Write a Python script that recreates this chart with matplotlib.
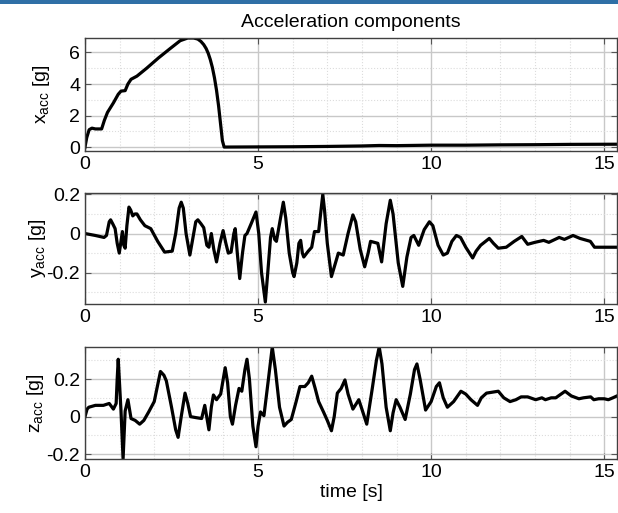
import numpy as np
import matplotlib
matplotlib.use("Agg")
import matplotlib.pyplot as plt
from matplotlib.ticker import MultipleLocator
from matplotlib.patches import Rectangle

plt.rcParams['font.family'] = ['Liberation Sans', 'DejaVu Sans']
plt.rcParams['mathtext.default'] = 'regular'
plt.rcParams['font.size'] = 14

# x acceleration [g]
t_x = [0.0, 0.05, 0.12, 0.2, 0.3, 0.48, 0.56, 0.65, 0.82, 0.96, 1.04, 1.16, 1.24, 1.33,
       1.5, 1.78, 2.12, 2.46, 2.75, 2.97, 3.14, 3.26, 3.35, 3.43, 3.5, 3.56, 3.62, 3.68,
       3.74, 3.8, 3.86, 3.92, 3.97, 4.02, 5.0, 6.0, 7.0, 8.0, 8.5, 9.0, 10.0, 11.0, 12.0,
       13.0, 14.0, 15.37]
a_x = [0.0, 0.6, 1.1, 1.2, 1.15, 1.15, 1.7, 2.2, 2.8, 3.35, 3.55, 3.58, 4.0, 4.3,
       4.5, 5.0, 5.65, 6.25, 6.75, 6.92, 6.92, 6.85, 6.7, 6.5, 6.25, 5.95, 5.55, 5.05,
       4.4, 3.6, 2.6, 1.4, 0.4, 0.0, 0.01, 0.02, 0.04, 0.07, 0.1, 0.09, 0.12, 0.12, 0.14,
       0.15, 0.17, 0.18]

# y acceleration [g]
t_y = [0.0, 0.3, 0.55, 0.62, 0.7, 0.74, 0.8, 0.87, 0.93, 0.99, 1.04, 1.08, 1.12, 1.16,
       1.21, 1.27, 1.32, 1.38, 1.44, 1.5, 1.6, 1.73, 1.9, 2.1, 2.3, 2.52, 2.62, 2.72,
       2.78, 2.84, 2.92, 3.03, 3.12, 3.2, 3.26, 3.35, 3.43, 3.52, 3.58, 3.65, 3.72, 3.8,
       3.9, 3.99, 4.07, 4.14, 4.22, 4.3, 4.34, 4.4, 4.47, 4.55, 4.62, 4.68, 4.8, 4.94,
       5.02, 5.1, 5.21, 5.28, 5.36, 5.41, 5.48, 5.53, 5.63, 5.73, 5.8, 5.9, 6.0, 6.04,
       6.12, 6.18, 6.23, 6.28, 6.32, 6.45, 6.55, 6.63, 6.75, 6.82, 6.87, 6.92, 7.0, 7.12,
       7.22, 7.32, 7.46, 7.6, 7.74, 7.82, 7.95, 8.08, 8.18, 8.25, 8.46, 8.57, 8.7, 8.82,
       8.9, 9.05, 9.18, 9.3, 9.42, 9.5, 9.64, 9.8, 9.95, 10.05, 10.2, 10.35, 10.47, 10.6,
       10.73, 10.85, 11.0, 11.2, 11.3, 11.43, 11.68, 11.8, 11.94, 12.17, 12.4, 12.62, 12.79,
       13.0, 13.25, 13.4, 13.7, 13.85, 14.1, 14.3, 14.5, 14.6, 14.72, 15.0, 15.37]
a_y = [0.0, -0.01, -0.02, -0.01, 0.06, 0.07, 0.05, 0.025, -0.05, -0.1, -0.04, 0.01, -0.06, -0.075,
       0.04, 0.135, 0.12, 0.09, 0.1, 0.1, 0.07, 0.04, 0.025, -0.04, -0.095, -0.09, 0.0, 0.13,
       0.16, 0.13, 0.0, -0.11, -0.02, 0.06, 0.07, 0.05, 0.03, -0.06, -0.07, 0.0, -0.08, -0.145,
       -0.05, 0.015, -0.05, -0.1, -0.095, 0.0, 0.025, -0.1, -0.23, -0.1, -0.01, 0.0, 0.05, 0.11,
       0.0, -0.2, -0.35, -0.2, -0.02, 0.025, -0.03, -0.04, 0.06, 0.16, 0.08, -0.1, -0.2, -0.22,
       -0.15, -0.05, -0.035, -0.1, -0.12, -0.09, -0.07, 0.01, 0.01, 0.12, 0.2, 0.12, -0.05, -0.22,
       -0.16, -0.1, -0.11, 0.0, 0.095, 0.06, -0.08, -0.17, -0.1, -0.04, -0.05, -0.145, 0.05, 0.17,
       0.1, -0.15, -0.27, -0.12, -0.02, -0.01, -0.06, 0.02, 0.06, 0.04, -0.06, -0.11, -0.1, -0.04,
       -0.01, -0.02, -0.07, -0.125, -0.09, -0.06, -0.025, -0.05, -0.075, -0.07, -0.04, -0.015, -0.055,
       -0.045, -0.035, -0.045, -0.02, -0.03, -0.01, -0.025, -0.035, -0.04, -0.07, -0.07, -0.07]

# z acceleration [g]
t_z = [0.0, 0.06, 0.11, 0.3, 0.53, 0.7, 0.82, 0.9, 0.93, 0.96, 0.99, 1.04, 1.07, 1.1,
       1.13, 1.16, 1.24, 1.33, 1.45, 1.58, 1.7, 1.84, 2.0, 2.1, 2.18, 2.28, 2.35, 2.5,
       2.62, 2.69, 2.78, 2.89, 2.97, 3.05, 3.2, 3.37, 3.46, 3.58, 3.65, 3.71, 3.8, 3.92,
       4.05, 4.12, 4.2, 4.26, 4.35, 4.45, 4.53, 4.62, 4.68, 4.75, 4.85, 4.94, 5.0, 5.07,
       5.17, 5.3, 5.41, 5.5, 5.62, 5.75, 5.85, 5.96, 6.1, 6.21, 6.35, 6.45, 6.55, 6.65,
       6.75, 6.89, 7.0, 7.12, 7.2, 7.29, 7.4, 7.51, 7.6, 7.74, 7.91, 8.0, 8.14, 8.3,
       8.42, 8.5, 8.58, 8.7, 8.82, 8.9, 8.99, 9.1, 9.25, 9.4, 9.52, 9.59, 9.68, 9.84,
       10.0, 10.15, 10.24, 10.35, 10.47, 10.65, 10.86, 11.0, 11.15, 11.34, 11.45, 11.6, 11.94,
       12.1, 12.28, 12.45, 12.6, 12.79, 13.02, 13.2, 13.3, 13.47, 13.6, 13.87, 14.05, 14.27,
       14.4, 14.61, 14.7, 14.84, 15.0, 15.12, 15.25, 15.37]
a_z = [0.0, 0.04, 0.05, 0.06, 0.06, 0.07, 0.04, 0.07, 0.2, 0.305, 0.2, 0.03, -0.1, -0.225,
       -0.1, 0.03, 0.09, -0.01, -0.02, -0.04, -0.02, 0.025, 0.08, 0.17, 0.24, 0.22, 0.19, 0.05,
       -0.07, -0.11, 0.0, 0.125, 0.07, 0.0, -0.005, -0.01, 0.06, -0.07, 0.05, 0.115, 0.09, 0.12,
       0.26, 0.18, 0.0, -0.04, 0.06, 0.15, 0.135, 0.25, 0.305, 0.2, -0.05, -0.16, -0.05, 0.025,
       0.005, 0.2, 0.37, 0.25, 0.05, -0.05, -0.03, -0.015, 0.08, 0.16, 0.16, 0.18, 0.215, 0.15,
       0.08, 0.025, -0.02, -0.075, 0.0, 0.125, 0.15, 0.195, 0.12, 0.04, 0.09, 0.04, -0.04, 0.15,
       0.3, 0.37, 0.28, 0.05, -0.075, 0.02, 0.09, 0.05, -0.015, 0.12, 0.25, 0.28, 0.2, 0.035,
       0.08, 0.16, 0.18, 0.1, 0.05, 0.08, 0.135, 0.12, 0.09, 0.06, 0.1, 0.125, 0.135,
       0.1, 0.08, 0.09, 0.105, 0.105, 0.09, 0.1, 0.09, 0.1, 0.1, 0.135, 0.11, 0.095,
       0.1, 0.105, 0.09, 0.095, 0.095, 0.09, 0.1, 0.11]

fig = plt.figure(figsize=(6.18, 5.13), dpi=100)
fig.add_artist(Rectangle((0, 1 - 4 / 513), 1, 4 / 513, transform=fig.transFigure,
                         color='#2f6fa6', lw=0))

left, width = 85 / 618, 532 / 618
ax1 = fig.add_axes([left, 1 - 151 / 513, width, 113 / 513])
ax2 = fig.add_axes([left, 1 - 304 / 513, width, 111 / 513])
ax3 = fig.add_axes([left, 1 - 459 / 513, width, 112 / 513])

panels = [
    (ax1, t_x, a_x, r'x$_{acc}$ [g]', (-0.25, 6.92), 2, 1, -0.062),
    (ax2, t_y, a_y, r'y$_{acc}$ [g]', (-0.36, 0.207), 0.2, 0.1, -0.07),
    (ax3, t_z, a_z, r'z$_{acc}$ [g]', (-0.225, 0.37), 0.2, 0.1, -0.073),
]

for ax, t, a, lab, ylim, ymaj, ymin, lx in panels:
    ax.plot(t, a, color='black', lw=2.3, solid_joinstyle='round')
    ax.set_xlim(0, 15.37)
    ax.set_ylim(*ylim)
    ax.xaxis.set_major_locator(MultipleLocator(5))
    ax.xaxis.set_minor_locator(MultipleLocator(1))
    ax.yaxis.set_major_locator(MultipleLocator(ymaj))
    ax.yaxis.set_minor_locator(MultipleLocator(ymin))
    ax.grid(which='major', color='#c8c8c8', lw=1.0)
    ax.grid(which='minor', color='#dcdcdc', lw=0.8, ls=':')
    ax.set_axisbelow(True)
    ax.tick_params(which='both', direction='in', top=True, right=True, labelsize=14)
    ax.tick_params(which='major', length=4, width=0.8, color='#555555')
    ax.tick_params(which='minor', length=0)
    for s in ax.spines.values():
        s.set_color('#404040')
        s.set_linewidth(1.0)
    ax.set_ylabel(lab, fontsize=14)
    ax.yaxis.set_label_coords(lx, 0.5)
    ax.set_xticks([0, 5, 10, 15])
    ax.set_xticklabels(['0', '5', '10', '15'])

ax1.set_yticks([0, 2, 4, 6])
ax2.set_yticks([-0.2, 0, 0.2])
ax2.set_yticklabels(['-0.2', '0', '0.2'])
ax3.set_yticks([-0.2, 0, 0.2])
ax3.set_yticklabels(['-0.2', '0', '0.2'])

ax1.set_title('Acceleration components', fontsize=14, pad=8)
ax3.set_xlabel('time [s]', fontsize=14, labelpad=2)

fig.savefig('out.png', dpi=100)
